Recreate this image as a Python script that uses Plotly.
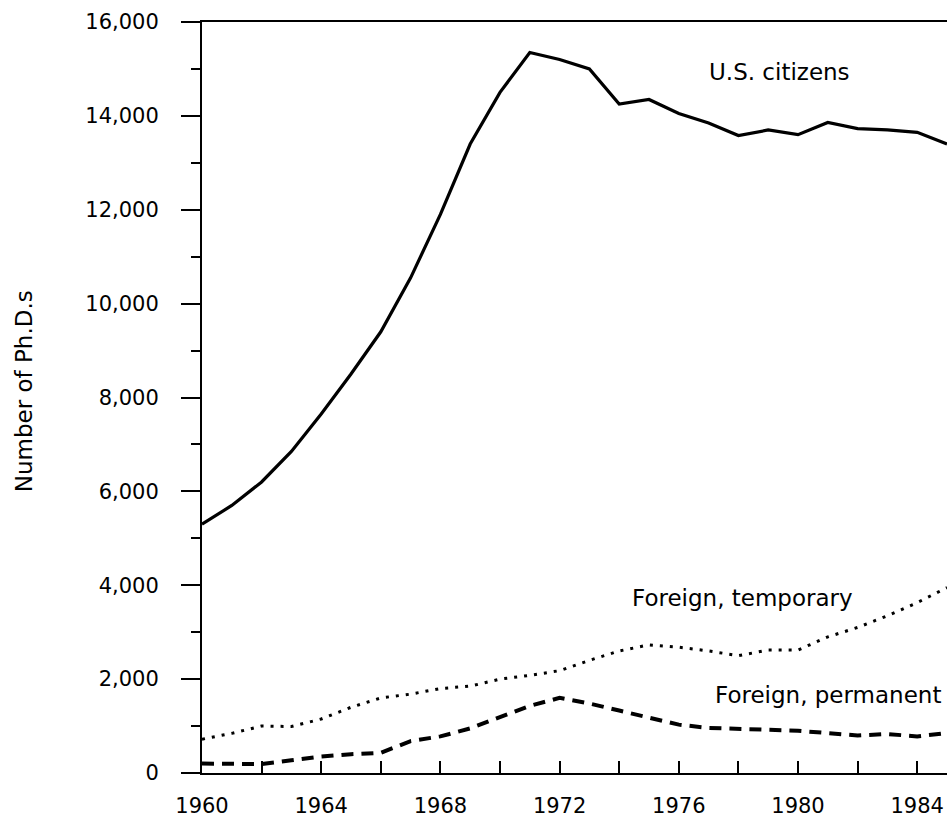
import plotly.graph_objects as go

years = list(range(1960, 1986))
us_citizens = [5300, 5700, 6200, 6850, 7650, 8500, 9400, 10550, 11900, 13400,
               14500, 15350, 15200, 15000, 14250, 14350, 14050, 13850, 13580, 13700,
               13600, 13860, 13730, 13700, 13650, 13400]
foreign_temporary = [720, 845, 1000, 990, 1150, 1400, 1600, 1680, 1800, 1850,
                     2000, 2080, 2180, 2400, 2600, 2730, 2680, 2600, 2500, 2620,
                     2620, 2900, 3100, 3350, 3630, 3950]
foreign_permanent = [200, 185, 190, 270, 350, 400, 430, 680, 780, 950,
                     1200, 1430, 1600, 1480, 1330, 1180, 1030, 960, 930, 920,
                     900, 850, 800, 830, 780, 850]

y_ticks = [0, 2000, 4000, 6000, 8000, 10000, 12000, 14000, 16000]
y_tick_labels = ["0", "2,000", "4,000", "6,000", "8,000", "10,000", "12,000", "14,000", "16,000"]
x_ticks = [1960, 1964, 1968, 1972, 1976, 1980, 1984]

FONT = "DejaVu Sans"

fig = go.Figure()
fig.add_trace(go.Scatter(x=years, y=us_citizens, mode="lines",
                         line=dict(color="black", width=3.2), showlegend=False))
fig.add_trace(go.Scatter(x=years, y=foreign_temporary, mode="lines",
                         line=dict(color="black", width=3, dash="3px,7px"), showlegend=False))
fig.add_trace(go.Scatter(x=years, y=foreign_permanent, mode="lines",
                         line=dict(color="black", width=4, dash="12px,8px"), showlegend=False))

annots = [
    ("U.S. citizens", 1976.95, 14930),
    ("Foreign, temporary", 1974.37, 3730),
    ("Foreign, permanent", 1977.15, 1660),
]
for text, x, y in annots:
    fig.add_annotation(x=x, y=y, text=text, showarrow=False, xanchor="left", yanchor="middle",
                       font=dict(family=FONT, size=23, color="black"))

# y-axis title
fig.add_annotation(xref="paper", yref="paper", x=-0.2396, y=0.509, text="Number of Ph.D.s",
                   textangle=-90, showarrow=False, xanchor="center", yanchor="middle",
                   font=dict(family=FONT, size=23, color="black"))

fig.update_layout(
    width=947, height=817,
    margin=dict(l=202, r=0, t=22, b=44),
    paper_bgcolor="white", plot_bgcolor="white",
    font=dict(family=FONT, size=21, color="black"),
    xaxis=dict(range=[1960, 1985], tickvals=x_ticks, ticktext=[str(v) for v in x_ticks],
               ticks="inside", ticklen=12, tickwidth=1.5, tickcolor="black",
               minor=dict(dtick=2, tick0=1960, ticks="inside", ticklen=12, tickwidth=1.5, tickcolor="black"),
               showline=True, linecolor="black", linewidth=2, mirror=True,
               showgrid=False, zeroline=False, ticklabelstandoff=13,
               tickfont=dict(family=FONT, size=21)),
    yaxis=dict(range=[0, 16000], tickvals=y_ticks, ticktext=y_tick_labels,
               ticks="outside", ticklen=19, tickwidth=1.5, tickcolor="black",
               minor=dict(dtick=1000, tick0=0, ticks="outside", ticklen=9, tickwidth=1.5, tickcolor="black"),
               showline=True, linecolor="black", linewidth=2, mirror=False,
               showgrid=False, zeroline=False, ticklabelstandoff=18,
               tickfont=dict(family=FONT, size=21)),
)

fig.write_html("out.html", config={"displayModeBar": False},
               post_script="document.body.style.margin='0';document.body.style.overflow='hidden';")
